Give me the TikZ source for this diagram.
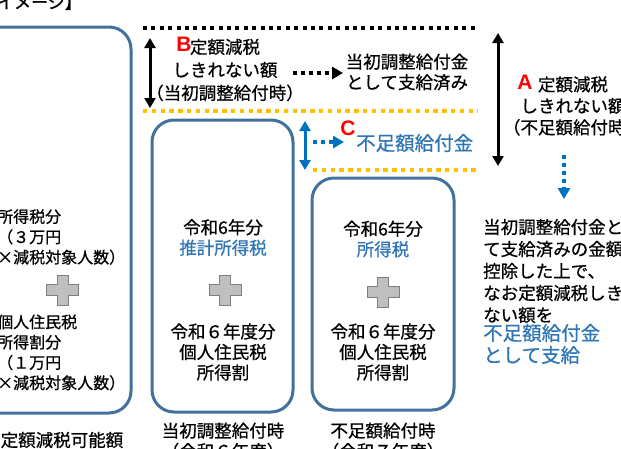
\documentclass[tikz,border=0pt]{standalone}
\usepackage{fontspec}
\setmainfont{Noto Sans CJK JP}[UprightFeatures={FakeBold=0.7}]
\newfontfamily\latinfont{Liberation Sans}
\usetikzlibrary{arrows.meta}
\definecolor{boxblue}{RGB}{65,113,156}
\definecolor{txtblue}{RGB}{46,117,182}
\definecolor{arrblue}{RGB}{0,112,192}
\definecolor{dotorange}{RGB}{255,192,0}
\definecolor{plusfill}{RGB}{191,191,191}
\definecolor{plusedge}{RGB}{127,127,127}
\begin{document}
\begin{tikzpicture}[x=1pt,y=-1pt,
 box/.style={draw=boxblue,line width=3pt,rounded corners=22pt,inner sep=0pt},
 txt/.style={font=\fontsize{17.5}{20.5}\selectfont,align=center,inner sep=0pt},
 smalltxt/.style={font=\fontsize{16}{20.3}\selectfont,align=left,inner sep=0pt},
 bigblue/.style={font=\fontsize{19.5}{22}\selectfont,text=txtblue,align=left,inner sep=0pt},
 letter/.style={font=\fontsize{21}{21}\latinfont\bfseries,text=red,inner sep=0pt},
 blackdots/.style={line width=4pt,dash pattern=on 4pt off 4.4pt},
 orangedots/.style={draw=dotorange,line width=4pt,dash pattern=on 4.4pt off 4.4pt},
 twoway/.style={line width=3pt,{Triangle[width=11pt,length=10pt]}-{Triangle[width=11pt,length=10pt]}},
 dotarrow/.style={line width=4pt,dash pattern=on 4pt off 4pt,-{Triangle[width=12pt,length=11pt]}},
 plussign/.pic={\filldraw[fill=plusfill,draw=plusedge,line width=0.8pt]
   (-16,-5.5)--(-5.5,-5.5)--(-5.5,-15)--(5.5,-15)--(5.5,-5.5)--(16,-5.5)--(16,5.5)
   --(5.5,5.5)--(5.5,15)--(-5.5,15)--(-5.5,5.5)--(-16,5.5)--cycle;}
 ]
\useasboundingbox (0,0) rectangle (621,448);

% title
\node[font=\fontsize{17}{17}\selectfont,anchor=base east,inner sep=0pt] (title) at (82,8.5) {【イメージ】};

% boxes
\node[box,minimum width=161pt,minimum height=386pt] (lbox) at (50.5,220) {};
\node[box,minimum width=141pt,minimum height=292pt] (mbox) at (222.5,266) {};
\node[box,minimum width=142pt,minimum height=232pt] (rbox) at (383,294) {};

% left box contents
\node[smalltxt,anchor=west] (l1) at (-3,237) {所得税分\\（３万円\\×減税対象人数）};
\pic at (62.5,290) {plussign};
\node[smalltxt,anchor=west] (l2) at (-3,352.5) {個人住民税\\所得割分\\（１万円\\×減税対象人数）};

% middle box contents
\node[txt] (m1) at (223,237.5) {令和6年分\\\textcolor{txtblue}{推計所得税}};
\pic at (225,290) {plussign};
\node[txt] (m2) at (223,352) {令和６年度分\\個人住民税\\所得割};

% right box contents
\node[txt] (r1) at (383,239) {令和6年分\\\textcolor{txtblue}{所得税}};
\pic at (383,292) {plussign};
\node[txt] (r2) at (383,352) {令和６年度分\\個人住民税\\所得割};

% captions
\node[txt] (lcap) at (62,440) {定額減税可能額};
\node[txt] (mcap) at (223,441) {当初調整給付時\\（令和６年度）};
\node[txt] (rcap) at (383,441) {不足額給付時\\（令和７年度）};

% dotted level lines
\coordinate (k1) at (143,28);  \coordinate (k2) at (478,28);
\coordinate (o1) at (143,111); \coordinate (o2) at (478,111);
\coordinate (o3) at (313,170); \coordinate (o4) at (478,170);
\draw[blackdots] (k1) -- (k2);
\draw[orangedots] (o1) -- (o2);
\draw[orangedots] (o3) -- (o4);

% B
\coordinate (bt) at (150,38); \coordinate (bb) at (150,108);
\draw[twoway] (bt) -- (bb);
\node[letter] (bl) at (184,44) {B};
\node[txt,font=\fontsize{17.5}{23}\selectfont] (btxt) at (225,70) {定額減税\\しきれない額\\（当初調整給付時）};
\node[txt] (paid) at (407,72) {当初調整給付金\\として支給済み};
\coordinate (bs) at (293,73); \coordinate (be) at (343,73);
\draw[dotarrow] (bs) -- (be);

% A
\coordinate (at) at (498,33); \coordinate (ab) at (498,166);
\draw[twoway] (at) -- (ab);
\node[letter] (al) at (525,82) {A};
\node[txt,font=\fontsize{17.5}{21.5}\selectfont] (atxt) at (573,106) {定額減税\\しきれない額\\（不足額給付時）};

% C
\coordinate (ct) at (305,121); \coordinate (cb) at (305,170);
\draw[twoway,draw=arrblue,fill=arrblue] (ct) -- (cb);
\coordinate (cs) at (313,142); \coordinate (ce) at (344,142);
\draw[dotarrow,draw=arrblue,fill=arrblue] (cs) -- (ce);
\node[letter] (cl) at (348,128) {C};
\node[bigblue,anchor=west] (ctxt) at (356,143) {不足額給付金};

% down arrow and explanation
\coordinate (ds) at (564,155); \coordinate (de) at (564,199);
\draw[dotarrow,draw=arrblue,fill=arrblue] (ds) -- (de);
\node[txt,align=left,font=\fontsize{17.5}{22}\selectfont,anchor=west] (expl) at (483,271)
  {当初調整給付金と\\て支給済みの金額\\控除した上で、\\なお定額減税しき\\ない額を};
\node[bigblue,anchor=west] (expl2) at (483,344) {不足額給付金\\として支給};
\end{tikzpicture}
\end{document}
